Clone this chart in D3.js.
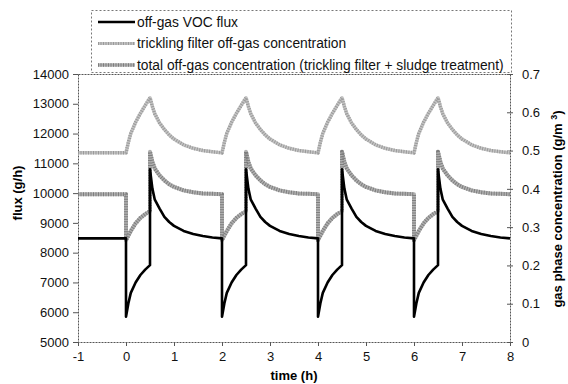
<!DOCTYPE html>
<html><head><meta charset="utf-8">
<script src="https://cdn.jsdelivr.net/npm/d3@7"></script>
<style>
body{margin:0;background:#fff;}
svg{display:block;font-family:"Liberation Sans",Arial,sans-serif;}
</style></head><body>
<svg id="c" width="568" height="384"></svg>
<script>
// ---- data ----
const xTicks = [-1,0,1,2,3,4,5,6,7,8];
const fluxTicks = [5000,6000,7000,8000,9000,10000,11000,12000,13000,14000];
const concTicks = [0,0.1,0.2,0.3,0.4,0.5,0.6,0.7];
const seriesNames = ["off-gas VOC flux","trickling filter off-gas concentration","total off-gas concentration (trickling filter + sludge treatment)"];

// off-gas VOC flux (g/h), left axis
const fluxSeries = [
[-1,8480],[0,8480],[0,5850],[0.05,6300],[0.1,6650],[0.2,7000],[0.3,7250],[0.4,7430],[0.5,7580],[0.5,10800],[0.55,10150],[0.6,9780],[0.7,9480],[0.8,9200],[0.9,9030],[1.0,8900],[1.2,8730],[1.4,8630],[1.6,8560],[1.8,8510],[2,8480],
[2,5850],[2.05,6300],[2.1,6650],[2.2,7000],[2.3,7250],[2.4,7430],[2.5,7580],[2.5,10800],[2.55,10150],[2.6,9780],[2.7,9480],[2.8,9200],[2.9,9030],[3.0,8900],[3.2,8730],[3.4,8630],[3.6,8560],[3.8,8510],[4,8480],
[4,5850],[4.05,6300],[4.1,6650],[4.2,7000],[4.3,7250],[4.4,7430],[4.5,7580],[4.5,10800],[4.55,10150],[4.6,9780],[4.7,9480],[4.8,9200],[4.9,9030],[5.0,8900],[5.2,8730],[5.4,8630],[5.6,8560],[5.8,8510],[6,8480],
[6,5850],[6.05,6300],[6.1,6650],[6.2,7000],[6.3,7250],[6.4,7430],[6.5,7580],[6.5,10800],[6.55,10150],[6.6,9780],[6.7,9480],[6.8,9200],[6.9,9030],[7.0,8900],[7.2,8730],[7.4,8630],[7.6,8560],[7.8,8510],[8,8480]
];
// trickling filter off-gas concentration (g/m3), right axis
const tfSeries = [
[-1,0.494],[0,0.494],[0.05,0.522],[0.1,0.545],[0.2,0.574],[0.3,0.597],[0.4,0.618],[0.5,0.638],[0.55,0.615],[0.6,0.596],[0.7,0.572],[0.8,0.555],[0.9,0.541],[1.0,0.530],[1.2,0.515],[1.4,0.506],[1.6,0.500],[1.8,0.497],[2,0.494],
[2.05,0.522],[2.1,0.545],[2.2,0.574],[2.3,0.597],[2.4,0.618],[2.5,0.638],[2.55,0.615],[2.6,0.596],[2.7,0.572],[2.8,0.555],[2.9,0.541],[3.0,0.530],[3.2,0.515],[3.4,0.506],[3.6,0.500],[3.8,0.497],[4,0.494],
[4.05,0.522],[4.1,0.545],[4.2,0.574],[4.3,0.597],[4.4,0.618],[4.5,0.638],[4.55,0.615],[4.6,0.596],[4.7,0.572],[4.8,0.555],[4.9,0.541],[5.0,0.530],[5.2,0.515],[5.4,0.506],[5.6,0.500],[5.8,0.497],[6,0.494],
[6.05,0.522],[6.1,0.545],[6.2,0.574],[6.3,0.597],[6.4,0.618],[6.5,0.638],[6.55,0.615],[6.6,0.596],[6.7,0.572],[6.8,0.555],[6.9,0.541],[7.0,0.530],[7.2,0.515],[7.4,0.506],[7.6,0.500],[7.8,0.497],[8,0.494]
];
// total off-gas concentration (g/m3), right axis
const totalSeries = [
[-1,0.386],[0,0.386],[0,0.266],[0.1,0.290],[0.2,0.310],[0.3,0.324],[0.4,0.334],[0.5,0.342],[0.5,0.497],[0.55,0.470],[0.6,0.453],[0.7,0.435],[0.8,0.422],[0.9,0.412],[1.0,0.405],[1.2,0.396],[1.4,0.391],[1.6,0.388],[1.8,0.387],[2,0.386],
[2,0.266],[2.1,0.290],[2.2,0.310],[2.3,0.324],[2.4,0.334],[2.5,0.342],[2.5,0.497],[2.55,0.470],[2.6,0.453],[2.7,0.435],[2.8,0.422],[2.9,0.412],[3.0,0.405],[3.2,0.396],[3.4,0.391],[3.6,0.388],[3.8,0.387],[4,0.386],
[4,0.266],[4.1,0.290],[4.2,0.310],[4.3,0.324],[4.4,0.334],[4.5,0.342],[4.5,0.497],[4.55,0.470],[4.6,0.453],[4.7,0.435],[4.8,0.422],[4.9,0.412],[5.0,0.405],[5.2,0.396],[5.4,0.391],[5.6,0.388],[5.8,0.387],[6,0.386],
[6,0.266],[6.1,0.290],[6.2,0.310],[6.3,0.324],[6.4,0.334],[6.5,0.342],[6.5,0.497],[6.55,0.470],[6.6,0.453],[6.7,0.435],[6.8,0.422],[6.9,0.412],[7.0,0.405],[7.2,0.396],[7.4,0.391],[7.6,0.388],[7.8,0.387],[8,0.386]
];

// ---- layout ----
const L=78, R=510, T=74, B=342;
const svg=d3.select("#c");
const x=d3.scaleLinear().domain([-1,8]).range([L,R]);
const yL=d3.scaleLinear().domain([5000,14000]).range([B,T]);
const yR=d3.scaleLinear().domain([0,0.7]).range([B,T]);

// frame
const frame=svg.append("g").attr("fill","none").attr("stroke","#555").attr("stroke-width",1).attr("stroke-dasharray","2,1");
frame.append("rect").attr("x",L+0.5).attr("y",T+0.5).attr("width",R-L).attr("height",B-T);

// axes
const axStyle=g=>{g.select(".domain").remove();g.selectAll("text").attr("font-size",13).attr("fill","#111").attr("font-family","Liberation Sans, Arial, sans-serif");g.selectAll("line").attr("stroke","#555");};
svg.append("g").attr("transform",`translate(${L},0)`).call(d3.axisLeft(yL).tickValues(fluxTicks).tickFormat(d=>String(d)).tickSize(5).tickPadding(4)).call(axStyle);
svg.append("g").attr("transform",`translate(${R},0)`).call(d3.axisRight(yR).tickValues(concTicks).tickFormat(d=>d===0?"0":d3.format(".1f")(d)).tickSizeInner(4).tickSizeOuter(0).tickPadding(8)).call(axStyle)
  .selectAll(".tick line").attr("x1",-3).attr("x2",3);
svg.append("g").attr("transform",`translate(0,${B})`).call(d3.axisBottom(x).tickValues(xTicks).tickFormat(d=>String(d)).tickSize(4).tickPadding(6)).call(axStyle);

// axis titles
svg.append("text").attr("x",294).attr("y",380).attr("text-anchor","middle").attr("font-weight","bold").attr("font-size",13).text("time (h)");
svg.append("text").attr("transform","translate(22,193) rotate(-90)").attr("text-anchor","middle").attr("font-weight","bold").attr("font-size",13).text("flux (g/h)");
const rt=svg.append("text").attr("transform","translate(562,209) rotate(-90)").attr("text-anchor","middle").attr("font-weight","bold").attr("font-size",13);
rt.append("tspan").text("gas phase concentration (g/m ");
rt.append("tspan").attr("dy",-5).attr("font-size",9).text("3");
rt.append("tspan").attr("dy",5).text(")");

// lines
const lineL=d3.line().x(d=>x(d[0])).y(d=>yL(d[1]));
const lineR=d3.line().x(d=>x(d[0])).y(d=>yR(d[1]));
const g=svg.append("g").attr("fill","none").attr("stroke-linejoin","round");
function greyLine(path,base,dot,w){
  g.append("path").attr("d",path).attr("stroke",base).attr("stroke-width",w);
  g.append("path").attr("d",path).attr("stroke",dot).attr("stroke-width",w).attr("stroke-dasharray","1,1.5");
}
greyLine(lineR(tfSeries),"#c4c4c4","#9a9a9a",3.5);
greyLine(lineR(totalSeries),"#b0b0b0","#7e7e7e",4);
g.append("path").attr("d",lineL(fluxSeries)).attr("stroke","#000").attr("stroke-width",2.6);

// legend
const lg=svg.append("g");
lg.append("rect").attr("x",91.5).attr("y",10.5).attr("width",420).attr("height",62).attr("fill","#fff").attr("stroke","#777").attr("stroke-dasharray","2,2").attr("stroke-width",1);
const ly=[22,43.5,65];
lg.append("line").attr("x1",98).attr("x2",135).attr("y1",ly[0]).attr("y2",ly[0]).attr("stroke","#000").attr("stroke-width",2.6);
[[1,"#c4c4c4","#9a9a9a",3],[2,"#b0b0b0","#7e7e7e",3.5]].forEach(([i,b,dd,w])=>{
  lg.append("line").attr("x1",98).attr("x2",135).attr("y1",ly[i]).attr("y2",ly[i]).attr("stroke",b).attr("stroke-width",w);
  lg.append("line").attr("x1",98).attr("x2",135).attr("y1",ly[i]).attr("y2",ly[i]).attr("stroke",dd).attr("stroke-width",w).attr("stroke-dasharray","1,1.5");
});
seriesNames.forEach((n,i)=>{
  lg.append("text").attr("x",137).attr("y",ly[i]).attr("dy","0.35em").attr("font-size",13.8).attr("fill","#111").text(n);
});
</script>
</body></html>
